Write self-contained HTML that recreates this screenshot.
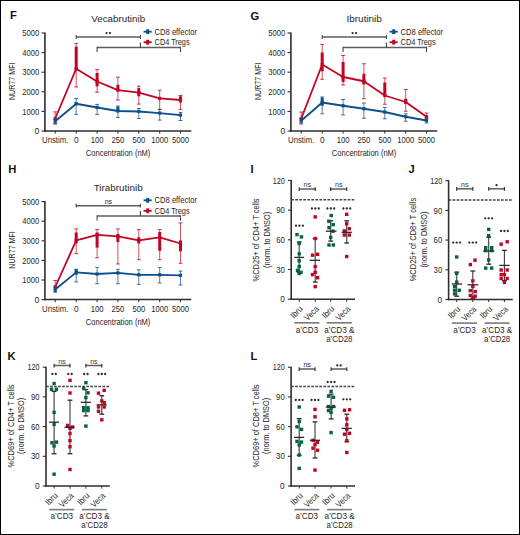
<!DOCTYPE html>
<html><head><meta charset="utf-8"><style>
html,body{margin:0;padding:0;background:#fff;}
body{width:520px;height:535px;overflow:hidden;font-family:"Liberation Sans", sans-serif;}
svg{display:block;}
</style></head><body>
<svg width="520" height="535" viewBox="0 0 520 535" font-family='"Liberation Sans", sans-serif'>
<rect x="0" y="0" width="520" height="535" fill="#fff"/>
<rect x="0.5" y="0.5" width="519" height="534" fill="none" stroke="#000" stroke-width="1"/>
<text x="10.0" y="19.0" font-size="11.2" text-anchor="start" font-weight="bold" fill="#111" >F</text>
<text x="250.6" y="19.6" font-size="11.2" text-anchor="start" font-weight="bold" fill="#111" >G</text>
<text x="8.3" y="173.0" font-size="11.2" text-anchor="start" font-weight="bold" fill="#111" >H</text>
<text x="250.6" y="173.0" font-size="11.2" text-anchor="start" font-weight="bold" fill="#111" >I</text>
<text x="408.4" y="173.0" font-size="11.2" text-anchor="start" font-weight="bold" fill="#111" >J</text>
<text x="7.4" y="360.0" font-size="11.2" text-anchor="start" font-weight="bold" fill="#111" >K</text>
<text x="250.4" y="360.2" font-size="11.2" text-anchor="start" font-weight="bold" fill="#111" >L</text>
<line x1="44.9" y1="32.5" x2="44.9" y2="131.75" stroke="#2e2e2e" stroke-width="1.6" />
<line x1="44.1" y1="131" x2="191.3" y2="131" stroke="#2e2e2e" stroke-width="1.5" />
<line x1="41.5" y1="131.0" x2="44.9" y2="131.0" stroke="#2e2e2e" stroke-width="1.1" />
<text x="39.2" y="134.1" font-size="8.9" text-anchor="end" font-weight="normal" fill="#262626" textLength="4.8" lengthAdjust="spacingAndGlyphs" >0</text>
<line x1="41.5" y1="111.4" x2="44.9" y2="111.4" stroke="#2e2e2e" stroke-width="1.1" />
<text x="39.2" y="114.5" font-size="8.9" text-anchor="end" font-weight="normal" fill="#262626" textLength="16.9" lengthAdjust="spacingAndGlyphs" >1000</text>
<line x1="41.5" y1="91.8" x2="44.9" y2="91.8" stroke="#2e2e2e" stroke-width="1.1" />
<text x="39.2" y="94.89999999999999" font-size="8.9" text-anchor="end" font-weight="normal" fill="#262626" textLength="16.9" lengthAdjust="spacingAndGlyphs" >2000</text>
<line x1="41.5" y1="72.19999999999999" x2="44.9" y2="72.19999999999999" stroke="#2e2e2e" stroke-width="1.1" />
<text x="39.2" y="75.29999999999998" font-size="8.9" text-anchor="end" font-weight="normal" fill="#262626" textLength="16.9" lengthAdjust="spacingAndGlyphs" >3000</text>
<line x1="41.5" y1="52.599999999999994" x2="44.9" y2="52.599999999999994" stroke="#2e2e2e" stroke-width="1.1" />
<text x="39.2" y="55.699999999999996" font-size="8.9" text-anchor="end" font-weight="normal" fill="#262626" textLength="16.9" lengthAdjust="spacingAndGlyphs" >4000</text>
<line x1="41.5" y1="33.0" x2="44.9" y2="33.0" stroke="#2e2e2e" stroke-width="1.1" />
<text x="39.2" y="36.1" font-size="8.9" text-anchor="end" font-weight="normal" fill="#262626" textLength="16.9" lengthAdjust="spacingAndGlyphs" >5000</text>
<line x1="55.2" y1="131" x2="55.2" y2="133.6" stroke="#2e2e2e" stroke-width="1.0" />
<text x="55.2" y="143.2" font-size="8.6" text-anchor="middle" font-weight="normal" fill="#262626" textLength="26.2" lengthAdjust="spacingAndGlyphs" >Unstim.</text>
<line x1="76.2" y1="131" x2="76.2" y2="133.6" stroke="#2e2e2e" stroke-width="1.0" />
<text x="76.2" y="143.2" font-size="8.6" text-anchor="middle" font-weight="normal" fill="#262626" textLength="4.6" lengthAdjust="spacingAndGlyphs" >0</text>
<line x1="97.1" y1="131" x2="97.1" y2="133.6" stroke="#2e2e2e" stroke-width="1.0" />
<text x="97.1" y="143.2" font-size="8.6" text-anchor="middle" font-weight="normal" fill="#262626" textLength="12.8" lengthAdjust="spacingAndGlyphs" >100</text>
<line x1="117.9" y1="131" x2="117.9" y2="133.6" stroke="#2e2e2e" stroke-width="1.0" />
<text x="117.9" y="143.2" font-size="8.6" text-anchor="middle" font-weight="normal" fill="#262626" textLength="12.8" lengthAdjust="spacingAndGlyphs" >250</text>
<line x1="138.8" y1="131" x2="138.8" y2="133.6" stroke="#2e2e2e" stroke-width="1.0" />
<text x="138.8" y="143.2" font-size="8.6" text-anchor="middle" font-weight="normal" fill="#262626" textLength="12.8" lengthAdjust="spacingAndGlyphs" >500</text>
<line x1="159.7" y1="131" x2="159.7" y2="133.6" stroke="#2e2e2e" stroke-width="1.0" />
<text x="159.7" y="143.2" font-size="8.6" text-anchor="middle" font-weight="normal" fill="#262626" textLength="17.0" lengthAdjust="spacingAndGlyphs" >1000</text>
<line x1="180.5" y1="131" x2="180.5" y2="133.6" stroke="#2e2e2e" stroke-width="1.0" />
<text x="180.5" y="143.2" font-size="8.6" text-anchor="middle" font-weight="normal" fill="#262626" textLength="17.0" lengthAdjust="spacingAndGlyphs" >5000</text>
<text x="118.1" y="156.3" font-size="9.0" text-anchor="middle" font-weight="normal" fill="#262626" textLength="64.6" lengthAdjust="spacingAndGlyphs" >Concentration (nM)</text>
<text transform="translate(15.4,81.3) rotate(-90)" font-size="8.4" text-anchor="middle" fill="#262626" textLength="37.5" lengthAdjust="spacingAndGlyphs">NUR77 MFI</text>
<text x="118.2" y="22" font-size="9.9" text-anchor="middle" font-weight="normal" fill="#262626" textLength="53.8" lengthAdjust="spacingAndGlyphs" >Vecabrutinib</text>
<line x1="76.2" y1="37.1" x2="140.4" y2="37.1" stroke="#5e5e5e" stroke-width="1.5" />
<line x1="76.2" y1="35.1" x2="76.2" y2="38.9" stroke="#444" stroke-width="1.1" />
<line x1="140.4" y1="35.1" x2="140.4" y2="38.9" stroke="#444" stroke-width="1.1" />
<line x1="97.1" y1="47.4" x2="180.5" y2="47.4" stroke="#5e5e5e" stroke-width="1.5" />
<line x1="97.1" y1="46.699999999999996" x2="97.1" y2="52.0" stroke="#444" stroke-width="1.1" />
<line x1="180.5" y1="46.699999999999996" x2="180.5" y2="52.0" stroke="#444" stroke-width="1.1" />
<line x1="140.4" y1="42.4" x2="140.4" y2="47.4" stroke="#444" stroke-width="1.1" />
<circle cx="106.60" cy="33.1" r="1.15" fill="#2a2a2a"/>
<circle cx="110.00" cy="33.1" r="1.15" fill="#2a2a2a"/>
<line x1="143.6" y1="31.7" x2="151.7" y2="31.7" stroke="#0c4f8c" stroke-width="1.8" />
<rect x="146.20" y="29.30" width="3.00" height="4.80" fill="#0c4f8c" />
<text x="154.6" y="34.8" font-size="8.8" text-anchor="start" font-weight="normal" fill="#262626" textLength="42.5" lengthAdjust="spacingAndGlyphs" >CD8 effector</text>
<line x1="143.6" y1="42.2" x2="151.7" y2="42.2" stroke="#c20424" stroke-width="1.8" />
<rect x="146.20" y="39.80" width="3.00" height="4.80" fill="#c20424" />
<text x="154.6" y="45.300000000000004" font-size="8.8" text-anchor="start" font-weight="normal" fill="#262626" textLength="35.0" lengthAdjust="spacingAndGlyphs" >CD4 Tregs</text>
<line x1="55.2" y1="111.9" x2="55.2" y2="124.0" stroke="#c20424" stroke-width="1.0" stroke-opacity="0.7"/>
<line x1="53.300000000000004" y1="111.9" x2="57.1" y2="111.9" stroke="#c20424" stroke-width="1.0" stroke-opacity="0.8"/>
<line x1="53.300000000000004" y1="124.0" x2="57.1" y2="124.0" stroke="#c20424" stroke-width="1.0" stroke-opacity="0.8"/>
<line x1="76.2" y1="43.4" x2="76.2" y2="87.0" stroke="#c20424" stroke-width="1.0" stroke-opacity="0.7"/>
<line x1="74.3" y1="43.4" x2="78.10000000000001" y2="43.4" stroke="#c20424" stroke-width="1.0" stroke-opacity="0.8"/>
<line x1="74.3" y1="87.0" x2="78.10000000000001" y2="87.0" stroke="#c20424" stroke-width="1.0" stroke-opacity="0.8"/>
<line x1="97.1" y1="69.6" x2="97.1" y2="92.2" stroke="#c20424" stroke-width="1.0" stroke-opacity="0.7"/>
<line x1="95.19999999999999" y1="69.6" x2="99.0" y2="69.6" stroke="#c20424" stroke-width="1.0" stroke-opacity="0.8"/>
<line x1="95.19999999999999" y1="92.2" x2="99.0" y2="92.2" stroke="#c20424" stroke-width="1.0" stroke-opacity="0.8"/>
<line x1="117.9" y1="77.2" x2="117.9" y2="100.0" stroke="#c20424" stroke-width="1.0" stroke-opacity="0.7"/>
<line x1="116.0" y1="77.2" x2="119.80000000000001" y2="77.2" stroke="#c20424" stroke-width="1.0" stroke-opacity="0.8"/>
<line x1="116.0" y1="100.0" x2="119.80000000000001" y2="100.0" stroke="#c20424" stroke-width="1.0" stroke-opacity="0.8"/>
<line x1="138.8" y1="86.1" x2="138.8" y2="104.1" stroke="#c20424" stroke-width="1.0" stroke-opacity="0.7"/>
<line x1="136.9" y1="86.1" x2="140.70000000000002" y2="86.1" stroke="#c20424" stroke-width="1.0" stroke-opacity="0.8"/>
<line x1="136.9" y1="104.1" x2="140.70000000000002" y2="104.1" stroke="#c20424" stroke-width="1.0" stroke-opacity="0.8"/>
<line x1="159.7" y1="90.2" x2="159.7" y2="109.3" stroke="#c20424" stroke-width="1.0" stroke-opacity="0.7"/>
<line x1="157.79999999999998" y1="90.2" x2="161.6" y2="90.2" stroke="#c20424" stroke-width="1.0" stroke-opacity="0.8"/>
<line x1="157.79999999999998" y1="109.3" x2="161.6" y2="109.3" stroke="#c20424" stroke-width="1.0" stroke-opacity="0.8"/>
<line x1="180.5" y1="95.5" x2="180.5" y2="109.3" stroke="#c20424" stroke-width="1.0" stroke-opacity="0.7"/>
<line x1="178.6" y1="95.5" x2="182.4" y2="95.5" stroke="#c20424" stroke-width="1.0" stroke-opacity="0.8"/>
<line x1="178.6" y1="109.3" x2="182.4" y2="109.3" stroke="#c20424" stroke-width="1.0" stroke-opacity="0.8"/>
<polyline points="55.20,118.50 76.20,68.75 97.10,81.50 117.90,90.20 138.80,92.70 159.70,98.40 180.50,100.00" fill="none" stroke="#c20424" stroke-width="1.8" stroke-linejoin="round"/>
<rect x="53.60" y="116.90" width="3.20" height="3.20" fill="#c20424" />
<rect x="74.70" y="46.60" width="3.00" height="23.90" fill="#c20424" />
<rect x="74.60" y="67.15" width="3.20" height="3.20" fill="#c20424" />
<rect x="95.60" y="73.00" width="3.00" height="13.40" fill="#c20424" />
<rect x="95.50" y="79.90" width="3.20" height="3.20" fill="#c20424" />
<rect x="116.40" y="84.80" width="3.00" height="6.20" fill="#c20424" />
<rect x="116.30" y="88.60" width="3.20" height="3.20" fill="#c20424" />
<rect x="137.30" y="88.10" width="3.00" height="8.20" fill="#c20424" />
<rect x="137.20" y="91.10" width="3.20" height="3.20" fill="#c20424" />
<rect x="158.10" y="96.80" width="3.20" height="3.20" fill="#c20424" />
<rect x="179.00" y="96.30" width="3.00" height="6.20" fill="#c20424" />
<rect x="178.90" y="98.40" width="3.20" height="3.20" fill="#c20424" />
<line x1="55.2" y1="119.5" x2="55.2" y2="123.5" stroke="#0c4f8c" stroke-width="1.0" stroke-opacity="0.7"/>
<line x1="53.300000000000004" y1="119.5" x2="57.1" y2="119.5" stroke="#0c4f8c" stroke-width="1.0" stroke-opacity="0.8"/>
<line x1="53.300000000000004" y1="123.5" x2="57.1" y2="123.5" stroke="#0c4f8c" stroke-width="1.0" stroke-opacity="0.8"/>
<line x1="76.2" y1="98.5" x2="76.2" y2="114.4" stroke="#0c4f8c" stroke-width="1.0" stroke-opacity="0.7"/>
<line x1="74.3" y1="98.5" x2="78.10000000000001" y2="98.5" stroke="#0c4f8c" stroke-width="1.0" stroke-opacity="0.8"/>
<line x1="74.3" y1="114.4" x2="78.10000000000001" y2="114.4" stroke="#0c4f8c" stroke-width="1.0" stroke-opacity="0.8"/>
<line x1="97.1" y1="104.4" x2="97.1" y2="114.4" stroke="#0c4f8c" stroke-width="1.0" stroke-opacity="0.7"/>
<line x1="95.19999999999999" y1="104.4" x2="99.0" y2="104.4" stroke="#0c4f8c" stroke-width="1.0" stroke-opacity="0.8"/>
<line x1="95.19999999999999" y1="114.4" x2="99.0" y2="114.4" stroke="#0c4f8c" stroke-width="1.0" stroke-opacity="0.8"/>
<line x1="117.9" y1="106.0" x2="117.9" y2="117.5" stroke="#0c4f8c" stroke-width="1.0" stroke-opacity="0.7"/>
<line x1="116.0" y1="106.0" x2="119.80000000000001" y2="106.0" stroke="#0c4f8c" stroke-width="1.0" stroke-opacity="0.8"/>
<line x1="116.0" y1="117.5" x2="119.80000000000001" y2="117.5" stroke="#0c4f8c" stroke-width="1.0" stroke-opacity="0.8"/>
<line x1="138.8" y1="108.5" x2="138.8" y2="118.5" stroke="#0c4f8c" stroke-width="1.0" stroke-opacity="0.7"/>
<line x1="136.9" y1="108.5" x2="140.70000000000002" y2="108.5" stroke="#0c4f8c" stroke-width="1.0" stroke-opacity="0.8"/>
<line x1="136.9" y1="118.5" x2="140.70000000000002" y2="118.5" stroke="#0c4f8c" stroke-width="1.0" stroke-opacity="0.8"/>
<line x1="159.7" y1="109.5" x2="159.7" y2="120.1" stroke="#0c4f8c" stroke-width="1.0" stroke-opacity="0.7"/>
<line x1="157.79999999999998" y1="109.5" x2="161.6" y2="109.5" stroke="#0c4f8c" stroke-width="1.0" stroke-opacity="0.8"/>
<line x1="157.79999999999998" y1="120.1" x2="161.6" y2="120.1" stroke="#0c4f8c" stroke-width="1.0" stroke-opacity="0.8"/>
<line x1="180.5" y1="112.6" x2="180.5" y2="120.5" stroke="#0c4f8c" stroke-width="1.0" stroke-opacity="0.7"/>
<line x1="178.6" y1="112.6" x2="182.4" y2="112.6" stroke="#0c4f8c" stroke-width="1.0" stroke-opacity="0.8"/>
<line x1="178.6" y1="120.5" x2="182.4" y2="120.5" stroke="#0c4f8c" stroke-width="1.0" stroke-opacity="0.8"/>
<polyline points="55.20,121.25 76.20,103.75 97.10,107.50 117.90,111.00 138.80,111.50 159.70,113.10 180.50,115.10" fill="none" stroke="#0c4f8c" stroke-width="1.8" stroke-linejoin="round"/>
<rect x="53.60" y="119.65" width="3.20" height="3.20" fill="#0c4f8c" />
<rect x="74.70" y="102.25" width="3.00" height="2.50" fill="#0c4f8c" />
<rect x="74.60" y="102.15" width="3.20" height="3.20" fill="#0c4f8c" />
<rect x="95.50" y="105.90" width="3.20" height="3.20" fill="#0c4f8c" />
<rect x="116.40" y="106.60" width="3.00" height="4.90" fill="#0c4f8c" />
<rect x="116.30" y="109.40" width="3.20" height="3.20" fill="#0c4f8c" />
<rect x="137.20" y="109.90" width="3.20" height="3.20" fill="#0c4f8c" />
<rect x="158.10" y="111.50" width="3.20" height="3.20" fill="#0c4f8c" />
<rect x="178.90" y="113.50" width="3.20" height="3.20" fill="#0c4f8c" />
<line x1="290.9" y1="32.5" x2="290.9" y2="131.75" stroke="#2e2e2e" stroke-width="1.6" />
<line x1="290.09999999999997" y1="131" x2="437.3" y2="131" stroke="#2e2e2e" stroke-width="1.5" />
<line x1="287.5" y1="131.0" x2="290.9" y2="131.0" stroke="#2e2e2e" stroke-width="1.1" />
<text x="285.2" y="134.1" font-size="8.9" text-anchor="end" font-weight="normal" fill="#262626" textLength="4.8" lengthAdjust="spacingAndGlyphs" >0</text>
<line x1="287.5" y1="111.4" x2="290.9" y2="111.4" stroke="#2e2e2e" stroke-width="1.1" />
<text x="285.2" y="114.5" font-size="8.9" text-anchor="end" font-weight="normal" fill="#262626" textLength="16.9" lengthAdjust="spacingAndGlyphs" >1000</text>
<line x1="287.5" y1="91.8" x2="290.9" y2="91.8" stroke="#2e2e2e" stroke-width="1.1" />
<text x="285.2" y="94.89999999999999" font-size="8.9" text-anchor="end" font-weight="normal" fill="#262626" textLength="16.9" lengthAdjust="spacingAndGlyphs" >2000</text>
<line x1="287.5" y1="72.19999999999999" x2="290.9" y2="72.19999999999999" stroke="#2e2e2e" stroke-width="1.1" />
<text x="285.2" y="75.29999999999998" font-size="8.9" text-anchor="end" font-weight="normal" fill="#262626" textLength="16.9" lengthAdjust="spacingAndGlyphs" >3000</text>
<line x1="287.5" y1="52.599999999999994" x2="290.9" y2="52.599999999999994" stroke="#2e2e2e" stroke-width="1.1" />
<text x="285.2" y="55.699999999999996" font-size="8.9" text-anchor="end" font-weight="normal" fill="#262626" textLength="16.9" lengthAdjust="spacingAndGlyphs" >4000</text>
<line x1="287.5" y1="33.0" x2="290.9" y2="33.0" stroke="#2e2e2e" stroke-width="1.1" />
<text x="285.2" y="36.1" font-size="8.9" text-anchor="end" font-weight="normal" fill="#262626" textLength="16.9" lengthAdjust="spacingAndGlyphs" >5000</text>
<line x1="301.2" y1="131" x2="301.2" y2="133.6" stroke="#2e2e2e" stroke-width="1.0" />
<text x="301.2" y="143.2" font-size="8.6" text-anchor="middle" font-weight="normal" fill="#262626" textLength="26.2" lengthAdjust="spacingAndGlyphs" >Unstim.</text>
<line x1="322.2" y1="131" x2="322.2" y2="133.6" stroke="#2e2e2e" stroke-width="1.0" />
<text x="322.2" y="143.2" font-size="8.6" text-anchor="middle" font-weight="normal" fill="#262626" textLength="4.6" lengthAdjust="spacingAndGlyphs" >0</text>
<line x1="343.1" y1="131" x2="343.1" y2="133.6" stroke="#2e2e2e" stroke-width="1.0" />
<text x="343.1" y="143.2" font-size="8.6" text-anchor="middle" font-weight="normal" fill="#262626" textLength="12.8" lengthAdjust="spacingAndGlyphs" >100</text>
<line x1="363.9" y1="131" x2="363.9" y2="133.6" stroke="#2e2e2e" stroke-width="1.0" />
<text x="363.9" y="143.2" font-size="8.6" text-anchor="middle" font-weight="normal" fill="#262626" textLength="12.8" lengthAdjust="spacingAndGlyphs" >250</text>
<line x1="384.8" y1="131" x2="384.8" y2="133.6" stroke="#2e2e2e" stroke-width="1.0" />
<text x="384.8" y="143.2" font-size="8.6" text-anchor="middle" font-weight="normal" fill="#262626" textLength="12.8" lengthAdjust="spacingAndGlyphs" >500</text>
<line x1="405.7" y1="131" x2="405.7" y2="133.6" stroke="#2e2e2e" stroke-width="1.0" />
<text x="405.7" y="143.2" font-size="8.6" text-anchor="middle" font-weight="normal" fill="#262626" textLength="17.0" lengthAdjust="spacingAndGlyphs" >1000</text>
<line x1="426.5" y1="131" x2="426.5" y2="133.6" stroke="#2e2e2e" stroke-width="1.0" />
<text x="426.5" y="143.2" font-size="8.6" text-anchor="middle" font-weight="normal" fill="#262626" textLength="17.0" lengthAdjust="spacingAndGlyphs" >5000</text>
<text x="364.1" y="156.3" font-size="9.0" text-anchor="middle" font-weight="normal" fill="#262626" textLength="64.6" lengthAdjust="spacingAndGlyphs" >Concentration (nM)</text>
<text transform="translate(261.4,81.3) rotate(-90)" font-size="8.4" text-anchor="middle" fill="#262626" textLength="37.5" lengthAdjust="spacingAndGlyphs">NUR77 MFI</text>
<text x="364.2" y="22" font-size="9.9" text-anchor="middle" font-weight="normal" fill="#262626" textLength="35.3" lengthAdjust="spacingAndGlyphs" >Ibrutinib</text>
<line x1="322.2" y1="37.1" x2="386.4" y2="37.1" stroke="#5e5e5e" stroke-width="1.5" />
<line x1="322.2" y1="35.1" x2="322.2" y2="38.9" stroke="#444" stroke-width="1.1" />
<line x1="386.4" y1="35.1" x2="386.4" y2="38.9" stroke="#444" stroke-width="1.1" />
<line x1="343.1" y1="47.4" x2="426.5" y2="47.4" stroke="#5e5e5e" stroke-width="1.5" />
<line x1="343.1" y1="46.699999999999996" x2="343.1" y2="52.0" stroke="#444" stroke-width="1.1" />
<line x1="426.5" y1="46.699999999999996" x2="426.5" y2="52.0" stroke="#444" stroke-width="1.1" />
<line x1="386.4" y1="42.4" x2="386.4" y2="47.4" stroke="#444" stroke-width="1.1" />
<circle cx="352.60" cy="33.1" r="1.15" fill="#2a2a2a"/>
<circle cx="356.00" cy="33.1" r="1.15" fill="#2a2a2a"/>
<line x1="389.6" y1="31.7" x2="397.7" y2="31.7" stroke="#0c4f8c" stroke-width="1.8" />
<rect x="392.20" y="29.30" width="3.00" height="4.80" fill="#0c4f8c" />
<text x="400.6" y="34.8" font-size="8.8" text-anchor="start" font-weight="normal" fill="#262626" textLength="42.5" lengthAdjust="spacingAndGlyphs" >CD8 effector</text>
<line x1="389.6" y1="42.2" x2="397.7" y2="42.2" stroke="#c20424" stroke-width="1.8" />
<rect x="392.20" y="39.80" width="3.00" height="4.80" fill="#c20424" />
<text x="400.6" y="45.300000000000004" font-size="8.8" text-anchor="start" font-weight="normal" fill="#262626" textLength="35.0" lengthAdjust="spacingAndGlyphs" >CD4 Tregs</text>
<line x1="301.2" y1="112.0" x2="301.2" y2="124.0" stroke="#c20424" stroke-width="1.0" stroke-opacity="0.7"/>
<line x1="299.3" y1="112.0" x2="303.09999999999997" y2="112.0" stroke="#c20424" stroke-width="1.0" stroke-opacity="0.8"/>
<line x1="299.3" y1="124.0" x2="303.09999999999997" y2="124.0" stroke="#c20424" stroke-width="1.0" stroke-opacity="0.8"/>
<line x1="322.2" y1="44.5" x2="322.2" y2="79.25" stroke="#c20424" stroke-width="1.0" stroke-opacity="0.7"/>
<line x1="320.3" y1="44.5" x2="324.09999999999997" y2="44.5" stroke="#c20424" stroke-width="1.0" stroke-opacity="0.8"/>
<line x1="320.3" y1="79.25" x2="324.09999999999997" y2="79.25" stroke="#c20424" stroke-width="1.0" stroke-opacity="0.8"/>
<line x1="343.1" y1="55.5" x2="343.1" y2="85.0" stroke="#c20424" stroke-width="1.0" stroke-opacity="0.7"/>
<line x1="341.20000000000005" y1="55.5" x2="345.0" y2="55.5" stroke="#c20424" stroke-width="1.0" stroke-opacity="0.8"/>
<line x1="341.20000000000005" y1="85.0" x2="345.0" y2="85.0" stroke="#c20424" stroke-width="1.0" stroke-opacity="0.8"/>
<line x1="363.9" y1="63.75" x2="363.9" y2="98.75" stroke="#c20424" stroke-width="1.0" stroke-opacity="0.7"/>
<line x1="362.0" y1="63.75" x2="365.79999999999995" y2="63.75" stroke="#c20424" stroke-width="1.0" stroke-opacity="0.8"/>
<line x1="362.0" y1="98.75" x2="365.79999999999995" y2="98.75" stroke="#c20424" stroke-width="1.0" stroke-opacity="0.8"/>
<line x1="384.8" y1="78.0" x2="384.8" y2="104.25" stroke="#c20424" stroke-width="1.0" stroke-opacity="0.7"/>
<line x1="382.90000000000003" y1="78.0" x2="386.7" y2="78.0" stroke="#c20424" stroke-width="1.0" stroke-opacity="0.8"/>
<line x1="382.90000000000003" y1="104.25" x2="386.7" y2="104.25" stroke="#c20424" stroke-width="1.0" stroke-opacity="0.8"/>
<line x1="405.7" y1="89.5" x2="405.7" y2="111.25" stroke="#c20424" stroke-width="1.0" stroke-opacity="0.7"/>
<line x1="403.8" y1="89.5" x2="407.59999999999997" y2="89.5" stroke="#c20424" stroke-width="1.0" stroke-opacity="0.8"/>
<line x1="403.8" y1="111.25" x2="407.59999999999997" y2="111.25" stroke="#c20424" stroke-width="1.0" stroke-opacity="0.8"/>
<line x1="426.5" y1="113.0" x2="426.5" y2="118.0" stroke="#c20424" stroke-width="1.0" stroke-opacity="0.7"/>
<line x1="424.6" y1="113.0" x2="428.4" y2="113.0" stroke="#c20424" stroke-width="1.0" stroke-opacity="0.8"/>
<line x1="424.6" y1="118.0" x2="428.4" y2="118.0" stroke="#c20424" stroke-width="1.0" stroke-opacity="0.8"/>
<polyline points="301.20,118.75 322.20,64.50 343.10,77.00 363.90,81.25 384.80,95.50 405.70,102.00 426.50,116.75" fill="none" stroke="#c20424" stroke-width="1.8" stroke-linejoin="round"/>
<rect x="299.60" y="117.15" width="3.20" height="3.20" fill="#c20424" />
<rect x="320.70" y="52.50" width="3.00" height="18.75" fill="#c20424" />
<rect x="320.60" y="62.90" width="3.20" height="3.20" fill="#c20424" />
<rect x="341.60" y="62.00" width="3.00" height="20.00" fill="#c20424" />
<rect x="341.50" y="75.40" width="3.20" height="3.20" fill="#c20424" />
<rect x="362.40" y="73.75" width="3.00" height="10.75" fill="#c20424" />
<rect x="362.30" y="79.65" width="3.20" height="3.20" fill="#c20424" />
<rect x="383.30" y="82.50" width="3.00" height="13.00" fill="#c20424" />
<rect x="383.20" y="93.90" width="3.20" height="3.20" fill="#c20424" />
<rect x="404.20" y="98.75" width="3.00" height="5.00" fill="#c20424" />
<rect x="404.10" y="100.40" width="3.20" height="3.20" fill="#c20424" />
<rect x="424.90" y="115.15" width="3.20" height="3.20" fill="#c20424" />
<line x1="301.2" y1="118.5" x2="301.2" y2="123.0" stroke="#0c4f8c" stroke-width="1.0" stroke-opacity="0.7"/>
<line x1="299.3" y1="118.5" x2="303.09999999999997" y2="118.5" stroke="#0c4f8c" stroke-width="1.0" stroke-opacity="0.8"/>
<line x1="299.3" y1="123.0" x2="303.09999999999997" y2="123.0" stroke="#0c4f8c" stroke-width="1.0" stroke-opacity="0.8"/>
<line x1="322.2" y1="97.0" x2="322.2" y2="113.75" stroke="#0c4f8c" stroke-width="1.0" stroke-opacity="0.7"/>
<line x1="320.3" y1="97.0" x2="324.09999999999997" y2="97.0" stroke="#0c4f8c" stroke-width="1.0" stroke-opacity="0.8"/>
<line x1="320.3" y1="113.75" x2="324.09999999999997" y2="113.75" stroke="#0c4f8c" stroke-width="1.0" stroke-opacity="0.8"/>
<line x1="343.1" y1="99.5" x2="343.1" y2="115.0" stroke="#0c4f8c" stroke-width="1.0" stroke-opacity="0.7"/>
<line x1="341.20000000000005" y1="99.5" x2="345.0" y2="99.5" stroke="#0c4f8c" stroke-width="1.0" stroke-opacity="0.8"/>
<line x1="341.20000000000005" y1="115.0" x2="345.0" y2="115.0" stroke="#0c4f8c" stroke-width="1.0" stroke-opacity="0.8"/>
<line x1="363.9" y1="103.0" x2="363.9" y2="118.25" stroke="#0c4f8c" stroke-width="1.0" stroke-opacity="0.7"/>
<line x1="362.0" y1="103.0" x2="365.79999999999995" y2="103.0" stroke="#0c4f8c" stroke-width="1.0" stroke-opacity="0.8"/>
<line x1="362.0" y1="118.25" x2="365.79999999999995" y2="118.25" stroke="#0c4f8c" stroke-width="1.0" stroke-opacity="0.8"/>
<line x1="384.8" y1="107.5" x2="384.8" y2="118.75" stroke="#0c4f8c" stroke-width="1.0" stroke-opacity="0.7"/>
<line x1="382.90000000000003" y1="107.5" x2="386.7" y2="107.5" stroke="#0c4f8c" stroke-width="1.0" stroke-opacity="0.8"/>
<line x1="382.90000000000003" y1="118.75" x2="386.7" y2="118.75" stroke="#0c4f8c" stroke-width="1.0" stroke-opacity="0.8"/>
<line x1="405.7" y1="113.75" x2="405.7" y2="121.25" stroke="#0c4f8c" stroke-width="1.0" stroke-opacity="0.7"/>
<line x1="403.8" y1="113.75" x2="407.59999999999997" y2="113.75" stroke="#0c4f8c" stroke-width="1.0" stroke-opacity="0.8"/>
<line x1="403.8" y1="121.25" x2="407.59999999999997" y2="121.25" stroke="#0c4f8c" stroke-width="1.0" stroke-opacity="0.8"/>
<line x1="426.5" y1="118.75" x2="426.5" y2="123.0" stroke="#0c4f8c" stroke-width="1.0" stroke-opacity="0.7"/>
<line x1="424.6" y1="118.75" x2="428.4" y2="118.75" stroke="#0c4f8c" stroke-width="1.0" stroke-opacity="0.8"/>
<line x1="424.6" y1="123.0" x2="428.4" y2="123.0" stroke="#0c4f8c" stroke-width="1.0" stroke-opacity="0.8"/>
<polyline points="301.20,120.75 322.20,102.50 343.10,105.75 363.90,108.75 384.80,112.00 405.70,116.75 426.50,120.50" fill="none" stroke="#0c4f8c" stroke-width="1.8" stroke-linejoin="round"/>
<rect x="299.60" y="119.15" width="3.20" height="3.20" fill="#0c4f8c" />
<rect x="320.70" y="97.50" width="3.00" height="8.25" fill="#0c4f8c" />
<rect x="320.60" y="100.90" width="3.20" height="3.20" fill="#0c4f8c" />
<rect x="341.50" y="104.15" width="3.20" height="3.20" fill="#0c4f8c" />
<rect x="362.30" y="107.15" width="3.20" height="3.20" fill="#0c4f8c" />
<rect x="383.20" y="110.40" width="3.20" height="3.20" fill="#0c4f8c" />
<rect x="404.10" y="115.15" width="3.20" height="3.20" fill="#0c4f8c" />
<rect x="424.90" y="118.90" width="3.20" height="3.20" fill="#0c4f8c" />
<line x1="44.9" y1="201.1" x2="44.9" y2="300.35" stroke="#2e2e2e" stroke-width="1.6" />
<line x1="44.1" y1="299.6" x2="191.3" y2="299.6" stroke="#2e2e2e" stroke-width="1.5" />
<line x1="41.5" y1="299.6" x2="44.9" y2="299.6" stroke="#2e2e2e" stroke-width="1.1" />
<text x="39.2" y="302.70000000000005" font-size="8.9" text-anchor="end" font-weight="normal" fill="#262626" textLength="4.8" lengthAdjust="spacingAndGlyphs" >0</text>
<line x1="41.5" y1="280.0" x2="44.9" y2="280.0" stroke="#2e2e2e" stroke-width="1.1" />
<text x="39.2" y="283.1" font-size="8.9" text-anchor="end" font-weight="normal" fill="#262626" textLength="16.9" lengthAdjust="spacingAndGlyphs" >1000</text>
<line x1="41.5" y1="260.40000000000003" x2="44.9" y2="260.40000000000003" stroke="#2e2e2e" stroke-width="1.1" />
<text x="39.2" y="263.50000000000006" font-size="8.9" text-anchor="end" font-weight="normal" fill="#262626" textLength="16.9" lengthAdjust="spacingAndGlyphs" >2000</text>
<line x1="41.5" y1="240.8" x2="44.9" y2="240.8" stroke="#2e2e2e" stroke-width="1.1" />
<text x="39.2" y="243.9" font-size="8.9" text-anchor="end" font-weight="normal" fill="#262626" textLength="16.9" lengthAdjust="spacingAndGlyphs" >3000</text>
<line x1="41.5" y1="221.20000000000002" x2="44.9" y2="221.20000000000002" stroke="#2e2e2e" stroke-width="1.1" />
<text x="39.2" y="224.3" font-size="8.9" text-anchor="end" font-weight="normal" fill="#262626" textLength="16.9" lengthAdjust="spacingAndGlyphs" >4000</text>
<line x1="41.5" y1="201.60000000000002" x2="44.9" y2="201.60000000000002" stroke="#2e2e2e" stroke-width="1.1" />
<text x="39.2" y="204.70000000000002" font-size="8.9" text-anchor="end" font-weight="normal" fill="#262626" textLength="16.9" lengthAdjust="spacingAndGlyphs" >5000</text>
<line x1="55.2" y1="299.6" x2="55.2" y2="302.20000000000005" stroke="#2e2e2e" stroke-width="1.0" />
<text x="55.2" y="311.79999999999995" font-size="8.6" text-anchor="middle" font-weight="normal" fill="#262626" textLength="26.2" lengthAdjust="spacingAndGlyphs" >Unstim.</text>
<line x1="76.2" y1="299.6" x2="76.2" y2="302.20000000000005" stroke="#2e2e2e" stroke-width="1.0" />
<text x="76.2" y="311.79999999999995" font-size="8.6" text-anchor="middle" font-weight="normal" fill="#262626" textLength="4.6" lengthAdjust="spacingAndGlyphs" >0</text>
<line x1="97.1" y1="299.6" x2="97.1" y2="302.20000000000005" stroke="#2e2e2e" stroke-width="1.0" />
<text x="97.1" y="311.79999999999995" font-size="8.6" text-anchor="middle" font-weight="normal" fill="#262626" textLength="12.8" lengthAdjust="spacingAndGlyphs" >100</text>
<line x1="117.9" y1="299.6" x2="117.9" y2="302.20000000000005" stroke="#2e2e2e" stroke-width="1.0" />
<text x="117.9" y="311.79999999999995" font-size="8.6" text-anchor="middle" font-weight="normal" fill="#262626" textLength="12.8" lengthAdjust="spacingAndGlyphs" >250</text>
<line x1="138.8" y1="299.6" x2="138.8" y2="302.20000000000005" stroke="#2e2e2e" stroke-width="1.0" />
<text x="138.8" y="311.79999999999995" font-size="8.6" text-anchor="middle" font-weight="normal" fill="#262626" textLength="12.8" lengthAdjust="spacingAndGlyphs" >500</text>
<line x1="159.7" y1="299.6" x2="159.7" y2="302.20000000000005" stroke="#2e2e2e" stroke-width="1.0" />
<text x="159.7" y="311.79999999999995" font-size="8.6" text-anchor="middle" font-weight="normal" fill="#262626" textLength="17.0" lengthAdjust="spacingAndGlyphs" >1000</text>
<line x1="180.5" y1="299.6" x2="180.5" y2="302.20000000000005" stroke="#2e2e2e" stroke-width="1.0" />
<text x="180.5" y="311.79999999999995" font-size="8.6" text-anchor="middle" font-weight="normal" fill="#262626" textLength="17.0" lengthAdjust="spacingAndGlyphs" >5000</text>
<text x="118.1" y="324.9" font-size="9.0" text-anchor="middle" font-weight="normal" fill="#262626" textLength="64.6" lengthAdjust="spacingAndGlyphs" >Concentration (nM)</text>
<text transform="translate(15.4,249.89999999999998) rotate(-90)" font-size="8.4" text-anchor="middle" fill="#262626" textLength="37.5" lengthAdjust="spacingAndGlyphs">NUR77 MFI</text>
<text x="118.2" y="190.6" font-size="9.9" text-anchor="middle" font-weight="normal" fill="#262626" textLength="49.0" lengthAdjust="spacingAndGlyphs" >Tirabrutinib</text>
<line x1="76.2" y1="205.7" x2="140.4" y2="205.7" stroke="#5e5e5e" stroke-width="1.5" />
<line x1="76.2" y1="203.7" x2="76.2" y2="207.5" stroke="#444" stroke-width="1.1" />
<line x1="140.4" y1="203.7" x2="140.4" y2="207.5" stroke="#444" stroke-width="1.1" />
<line x1="97.1" y1="216.0" x2="180.5" y2="216.0" stroke="#5e5e5e" stroke-width="1.5" />
<line x1="97.1" y1="215.3" x2="97.1" y2="220.6" stroke="#444" stroke-width="1.1" />
<line x1="180.5" y1="215.3" x2="180.5" y2="220.6" stroke="#444" stroke-width="1.1" />
<line x1="140.4" y1="211.0" x2="140.4" y2="216.0" stroke="#444" stroke-width="1.1" />
<text x="108.3" y="203.6" font-size="6.9" text-anchor="middle" font-weight="normal" fill="#262626" >ns</text>
<line x1="143.6" y1="200.29999999999998" x2="151.7" y2="200.29999999999998" stroke="#0c4f8c" stroke-width="1.8" />
<rect x="146.20" y="197.90" width="3.00" height="4.80" fill="#0c4f8c" />
<text x="154.6" y="203.39999999999998" font-size="8.8" text-anchor="start" font-weight="normal" fill="#262626" textLength="42.5" lengthAdjust="spacingAndGlyphs" >CD8 effector</text>
<line x1="143.6" y1="210.8" x2="151.7" y2="210.8" stroke="#c20424" stroke-width="1.8" />
<rect x="146.20" y="208.40" width="3.00" height="4.80" fill="#c20424" />
<text x="154.6" y="213.9" font-size="8.8" text-anchor="start" font-weight="normal" fill="#262626" textLength="35.0" lengthAdjust="spacingAndGlyphs" >CD4 Tregs</text>
<line x1="55.2" y1="280.5" x2="55.2" y2="292.0" stroke="#c20424" stroke-width="1.0" stroke-opacity="0.7"/>
<line x1="53.300000000000004" y1="280.5" x2="57.1" y2="280.5" stroke="#c20424" stroke-width="1.0" stroke-opacity="0.8"/>
<line x1="53.300000000000004" y1="292.0" x2="57.1" y2="292.0" stroke="#c20424" stroke-width="1.0" stroke-opacity="0.8"/>
<line x1="76.2" y1="228.9" x2="76.2" y2="253.6" stroke="#c20424" stroke-width="1.0" stroke-opacity="0.7"/>
<line x1="74.3" y1="228.9" x2="78.10000000000001" y2="228.9" stroke="#c20424" stroke-width="1.0" stroke-opacity="0.8"/>
<line x1="74.3" y1="253.6" x2="78.10000000000001" y2="253.6" stroke="#c20424" stroke-width="1.0" stroke-opacity="0.8"/>
<line x1="97.1" y1="229.6" x2="97.1" y2="257.7" stroke="#c20424" stroke-width="1.0" stroke-opacity="0.7"/>
<line x1="95.19999999999999" y1="229.6" x2="99.0" y2="229.6" stroke="#c20424" stroke-width="1.0" stroke-opacity="0.8"/>
<line x1="95.19999999999999" y1="257.7" x2="99.0" y2="257.7" stroke="#c20424" stroke-width="1.0" stroke-opacity="0.8"/>
<line x1="117.9" y1="228.9" x2="117.9" y2="264.0" stroke="#c20424" stroke-width="1.0" stroke-opacity="0.7"/>
<line x1="116.0" y1="228.9" x2="119.80000000000001" y2="228.9" stroke="#c20424" stroke-width="1.0" stroke-opacity="0.8"/>
<line x1="116.0" y1="264.0" x2="119.80000000000001" y2="264.0" stroke="#c20424" stroke-width="1.0" stroke-opacity="0.8"/>
<line x1="138.8" y1="229.6" x2="138.8" y2="259.7" stroke="#c20424" stroke-width="1.0" stroke-opacity="0.7"/>
<line x1="136.9" y1="229.6" x2="140.70000000000002" y2="229.6" stroke="#c20424" stroke-width="1.0" stroke-opacity="0.8"/>
<line x1="136.9" y1="259.7" x2="140.70000000000002" y2="259.7" stroke="#c20424" stroke-width="1.0" stroke-opacity="0.8"/>
<line x1="159.7" y1="229.6" x2="159.7" y2="259.7" stroke="#c20424" stroke-width="1.0" stroke-opacity="0.7"/>
<line x1="157.79999999999998" y1="229.6" x2="161.6" y2="229.6" stroke="#c20424" stroke-width="1.0" stroke-opacity="0.8"/>
<line x1="157.79999999999998" y1="259.7" x2="161.6" y2="259.7" stroke="#c20424" stroke-width="1.0" stroke-opacity="0.8"/>
<line x1="180.5" y1="222.9" x2="180.5" y2="263.3" stroke="#c20424" stroke-width="1.0" stroke-opacity="0.7"/>
<line x1="178.6" y1="222.9" x2="182.4" y2="222.9" stroke="#c20424" stroke-width="1.0" stroke-opacity="0.8"/>
<line x1="178.6" y1="263.3" x2="182.4" y2="263.3" stroke="#c20424" stroke-width="1.0" stroke-opacity="0.8"/>
<polyline points="55.20,287.00 76.20,240.40 97.10,234.90 117.90,236.30 138.80,240.40 159.70,237.30 180.50,243.50" fill="none" stroke="#c20424" stroke-width="1.8" stroke-linejoin="round"/>
<rect x="53.60" y="285.40" width="3.20" height="3.20" fill="#c20424" />
<rect x="74.70" y="232.50" width="3.00" height="11.00" fill="#c20424" />
<rect x="74.60" y="238.80" width="3.20" height="3.20" fill="#c20424" />
<rect x="95.60" y="232.50" width="3.00" height="15.10" fill="#c20424" />
<rect x="95.50" y="233.30" width="3.20" height="3.20" fill="#c20424" />
<rect x="116.40" y="234.00" width="3.00" height="8.00" fill="#c20424" />
<rect x="116.30" y="234.70" width="3.20" height="3.20" fill="#c20424" />
<rect x="137.30" y="237.30" width="3.00" height="6.20" fill="#c20424" />
<rect x="137.20" y="238.80" width="3.20" height="3.20" fill="#c20424" />
<rect x="158.20" y="232.00" width="3.00" height="18.80" fill="#c20424" />
<rect x="158.10" y="235.70" width="3.20" height="3.20" fill="#c20424" />
<rect x="179.00" y="240.40" width="3.00" height="10.85" fill="#c20424" />
<rect x="178.90" y="241.90" width="3.20" height="3.20" fill="#c20424" />
<line x1="55.2" y1="287.0" x2="55.2" y2="292.0" stroke="#0c4f8c" stroke-width="1.0" stroke-opacity="0.7"/>
<line x1="53.300000000000004" y1="287.0" x2="57.1" y2="287.0" stroke="#0c4f8c" stroke-width="1.0" stroke-opacity="0.8"/>
<line x1="53.300000000000004" y1="292.0" x2="57.1" y2="292.0" stroke="#0c4f8c" stroke-width="1.0" stroke-opacity="0.8"/>
<line x1="76.2" y1="269.3" x2="76.2" y2="282.0" stroke="#0c4f8c" stroke-width="1.0" stroke-opacity="0.7"/>
<line x1="74.3" y1="269.3" x2="78.10000000000001" y2="269.3" stroke="#0c4f8c" stroke-width="1.0" stroke-opacity="0.8"/>
<line x1="74.3" y1="282.0" x2="78.10000000000001" y2="282.0" stroke="#0c4f8c" stroke-width="1.0" stroke-opacity="0.8"/>
<line x1="97.1" y1="267.4" x2="97.1" y2="283.7" stroke="#0c4f8c" stroke-width="1.0" stroke-opacity="0.7"/>
<line x1="95.19999999999999" y1="267.4" x2="99.0" y2="267.4" stroke="#0c4f8c" stroke-width="1.0" stroke-opacity="0.8"/>
<line x1="95.19999999999999" y1="283.7" x2="99.0" y2="283.7" stroke="#0c4f8c" stroke-width="1.0" stroke-opacity="0.8"/>
<line x1="117.9" y1="269.3" x2="117.9" y2="283.7" stroke="#0c4f8c" stroke-width="1.0" stroke-opacity="0.7"/>
<line x1="116.0" y1="269.3" x2="119.80000000000001" y2="269.3" stroke="#0c4f8c" stroke-width="1.0" stroke-opacity="0.8"/>
<line x1="116.0" y1="283.7" x2="119.80000000000001" y2="283.7" stroke="#0c4f8c" stroke-width="1.0" stroke-opacity="0.8"/>
<line x1="138.8" y1="269.8" x2="138.8" y2="284.4" stroke="#0c4f8c" stroke-width="1.0" stroke-opacity="0.7"/>
<line x1="136.9" y1="269.8" x2="140.70000000000002" y2="269.8" stroke="#0c4f8c" stroke-width="1.0" stroke-opacity="0.8"/>
<line x1="136.9" y1="284.4" x2="140.70000000000002" y2="284.4" stroke="#0c4f8c" stroke-width="1.0" stroke-opacity="0.8"/>
<line x1="159.7" y1="267.6" x2="159.7" y2="283.0" stroke="#0c4f8c" stroke-width="1.0" stroke-opacity="0.7"/>
<line x1="157.79999999999998" y1="267.6" x2="161.6" y2="267.6" stroke="#0c4f8c" stroke-width="1.0" stroke-opacity="0.8"/>
<line x1="157.79999999999998" y1="283.0" x2="161.6" y2="283.0" stroke="#0c4f8c" stroke-width="1.0" stroke-opacity="0.8"/>
<line x1="180.5" y1="271.0" x2="180.5" y2="285.0" stroke="#0c4f8c" stroke-width="1.0" stroke-opacity="0.7"/>
<line x1="178.6" y1="271.0" x2="182.4" y2="271.0" stroke="#0c4f8c" stroke-width="1.0" stroke-opacity="0.8"/>
<line x1="178.6" y1="285.0" x2="182.4" y2="285.0" stroke="#0c4f8c" stroke-width="1.0" stroke-opacity="0.8"/>
<polyline points="55.20,289.50 76.20,272.40 97.10,274.00 117.90,272.90 138.80,274.80 159.70,274.80 180.50,275.30" fill="none" stroke="#0c4f8c" stroke-width="1.8" stroke-linejoin="round"/>
<rect x="53.60" y="287.90" width="3.20" height="3.20" fill="#0c4f8c" />
<rect x="74.70" y="269.30" width="3.00" height="5.50" fill="#0c4f8c" />
<rect x="74.60" y="270.80" width="3.20" height="3.20" fill="#0c4f8c" />
<rect x="95.50" y="272.40" width="3.20" height="3.20" fill="#0c4f8c" />
<rect x="116.30" y="271.30" width="3.20" height="3.20" fill="#0c4f8c" />
<rect x="137.20" y="273.20" width="3.20" height="3.20" fill="#0c4f8c" />
<rect x="158.10" y="273.20" width="3.20" height="3.20" fill="#0c4f8c" />
<rect x="178.90" y="273.70" width="3.20" height="3.20" fill="#0c4f8c" />
<line x1="291.2" y1="179.89999999999998" x2="291.2" y2="299.95" stroke="#2e2e2e" stroke-width="1.6" />
<line x1="290.4" y1="299.2" x2="355.0" y2="299.2" stroke="#2e2e2e" stroke-width="1.5" />
<line x1="288.0" y1="299.2" x2="291.2" y2="299.2" stroke="#2e2e2e" stroke-width="1.1" />
<text x="284.8" y="302.3" font-size="8.8" text-anchor="end" font-weight="normal" fill="#262626" textLength="4.6" lengthAdjust="spacingAndGlyphs" >0</text>
<line x1="288.0" y1="269.5" x2="291.2" y2="269.5" stroke="#2e2e2e" stroke-width="1.1" />
<text x="284.8" y="272.6" font-size="8.8" text-anchor="end" font-weight="normal" fill="#262626" textLength="8.6" lengthAdjust="spacingAndGlyphs" >30</text>
<line x1="288.0" y1="239.79999999999998" x2="291.2" y2="239.79999999999998" stroke="#2e2e2e" stroke-width="1.1" />
<text x="284.8" y="242.89999999999998" font-size="8.8" text-anchor="end" font-weight="normal" fill="#262626" textLength="8.6" lengthAdjust="spacingAndGlyphs" >60</text>
<line x1="288.0" y1="210.1" x2="291.2" y2="210.1" stroke="#2e2e2e" stroke-width="1.1" />
<text x="284.8" y="213.2" font-size="8.8" text-anchor="end" font-weight="normal" fill="#262626" textLength="8.6" lengthAdjust="spacingAndGlyphs" >90</text>
<line x1="288.0" y1="180.39999999999998" x2="291.2" y2="180.39999999999998" stroke="#2e2e2e" stroke-width="1.1" />
<text x="284.8" y="183.49999999999997" font-size="8.8" text-anchor="end" font-weight="normal" fill="#262626" textLength="12.0" lengthAdjust="spacingAndGlyphs" >120</text>
<line x1="299.2" y1="299.2" x2="299.2" y2="301.8" stroke="#2e2e2e" stroke-width="1.0" />
<line x1="315.2" y1="299.2" x2="315.2" y2="301.8" stroke="#2e2e2e" stroke-width="1.0" />
<line x1="330.7" y1="299.2" x2="330.7" y2="301.8" stroke="#2e2e2e" stroke-width="1.0" />
<line x1="346.7" y1="299.2" x2="346.7" y2="301.8" stroke="#2e2e2e" stroke-width="1.0" />
<line x1="291.2" y1="199.64999999999998" x2="355.3" y2="199.64999999999998" stroke="#444" stroke-width="1.5" stroke-dasharray="2.7 1.33"/>
<line x1="299.2" y1="189.0" x2="315.2" y2="189.0" stroke="#5e5e5e" stroke-width="1.5" />
<line x1="299.2" y1="187.2" x2="299.2" y2="190.9" stroke="#333" stroke-width="1.2" />
<line x1="315.2" y1="187.2" x2="315.2" y2="190.9" stroke="#333" stroke-width="1.2" />
<text x="307.2" y="187.1" font-size="6.9" text-anchor="middle" font-weight="normal" fill="#333" >ns</text>
<line x1="330.7" y1="189.0" x2="346.7" y2="189.0" stroke="#5e5e5e" stroke-width="1.5" />
<line x1="330.7" y1="187.2" x2="330.7" y2="190.9" stroke="#333" stroke-width="1.2" />
<line x1="346.7" y1="187.2" x2="346.7" y2="190.9" stroke="#333" stroke-width="1.2" />
<text x="338.7" y="187.1" font-size="6.9" text-anchor="middle" font-weight="normal" fill="#333" >ns</text>
<circle cx="296.00" cy="225.7" r="1.15" fill="#2a2a2a"/>
<circle cx="299.40" cy="225.7" r="1.15" fill="#2a2a2a"/>
<circle cx="302.80" cy="225.7" r="1.15" fill="#2a2a2a"/>
<circle cx="311.90" cy="208.5" r="1.15" fill="#2a2a2a"/>
<circle cx="315.30" cy="208.5" r="1.15" fill="#2a2a2a"/>
<circle cx="318.70" cy="208.5" r="1.15" fill="#2a2a2a"/>
<circle cx="327.40" cy="208.5" r="1.15" fill="#2a2a2a"/>
<circle cx="330.80" cy="208.5" r="1.15" fill="#2a2a2a"/>
<circle cx="334.20" cy="208.5" r="1.15" fill="#2a2a2a"/>
<circle cx="343.40" cy="208.5" r="1.15" fill="#2a2a2a"/>
<circle cx="346.80" cy="208.5" r="1.15" fill="#2a2a2a"/>
<circle cx="350.20" cy="208.5" r="1.15" fill="#2a2a2a"/>
<line x1="299.2" y1="242.0" x2="299.2" y2="272.4" stroke="#3a3a3a" stroke-width="1.1" />
<line x1="296.8" y1="242.0" x2="301.59999999999997" y2="242.0" stroke="#2a2a2a" stroke-width="1.3" />
<line x1="296.8" y1="272.4" x2="301.59999999999997" y2="272.4" stroke="#2a2a2a" stroke-width="1.3" />
<rect x="295.30" y="232.90" width="3.40" height="3.40" fill="#07604a" />
<rect x="299.80" y="235.20" width="3.40" height="3.40" fill="#07604a" />
<rect x="297.50" y="241.80" width="3.40" height="3.40" fill="#07604a" />
<rect x="297.50" y="252.10" width="3.40" height="3.40" fill="#07604a" />
<rect x="297.50" y="259.10" width="3.40" height="3.40" fill="#07604a" />
<rect x="297.50" y="264.80" width="3.40" height="3.40" fill="#07604a" />
<rect x="295.80" y="268.60" width="3.40" height="3.40" fill="#07604a" />
<rect x="299.30" y="270.60" width="3.40" height="3.40" fill="#07604a" />
<rect x="297.50" y="271.80" width="3.40" height="3.40" fill="#07604a" />
<line x1="294.2" y1="257.4" x2="304.2" y2="257.4" stroke="#2a2a2a" stroke-width="1.3" />
<line x1="315.2" y1="238.5" x2="315.2" y2="282.0" stroke="#3a3a3a" stroke-width="1.1" />
<line x1="312.8" y1="238.5" x2="317.59999999999997" y2="238.5" stroke="#2a2a2a" stroke-width="1.3" />
<line x1="312.8" y1="282.0" x2="317.59999999999997" y2="282.0" stroke="#2a2a2a" stroke-width="1.3" />
<rect x="313.50" y="215.20" width="3.40" height="3.40" fill="#c20424" />
<rect x="313.50" y="236.80" width="3.40" height="3.40" fill="#c20424" />
<rect x="310.80" y="253.50" width="3.40" height="3.40" fill="#c20424" />
<rect x="315.90" y="252.60" width="3.40" height="3.40" fill="#c20424" />
<rect x="313.50" y="264.90" width="3.40" height="3.40" fill="#c20424" />
<rect x="313.50" y="270.60" width="3.40" height="3.40" fill="#c20424" />
<rect x="310.80" y="272.90" width="3.40" height="3.40" fill="#c20424" />
<rect x="315.90" y="276.00" width="3.40" height="3.40" fill="#c20424" />
<rect x="313.50" y="284.90" width="3.40" height="3.40" fill="#c20424" />
<line x1="309.6" y1="260.3" x2="320.0" y2="260.3" stroke="#2a2a2a" stroke-width="1.3" />
<line x1="330.7" y1="220.8" x2="330.7" y2="241.1" stroke="#3a3a3a" stroke-width="1.1" />
<line x1="328.3" y1="220.8" x2="333.09999999999997" y2="220.8" stroke="#2a2a2a" stroke-width="1.3" />
<line x1="328.3" y1="241.1" x2="333.09999999999997" y2="241.1" stroke="#2a2a2a" stroke-width="1.3" />
<rect x="329.50" y="213.80" width="3.40" height="3.40" fill="#07604a" />
<rect x="327.10" y="219.50" width="3.40" height="3.40" fill="#07604a" />
<rect x="331.50" y="222.90" width="3.40" height="3.40" fill="#07604a" />
<rect x="327.30" y="226.00" width="3.40" height="3.40" fill="#07604a" />
<rect x="331.30" y="229.50" width="3.40" height="3.40" fill="#07604a" />
<rect x="329.00" y="235.70" width="3.40" height="3.40" fill="#07604a" />
<rect x="327.30" y="243.30" width="3.40" height="3.40" fill="#07604a" />
<rect x="331.70" y="243.30" width="3.40" height="3.40" fill="#07604a" />
<line x1="325.8" y1="231.2" x2="336.5" y2="231.2" stroke="#2a2a2a" stroke-width="1.3" />
<line x1="346.7" y1="220.8" x2="346.7" y2="243.0" stroke="#3a3a3a" stroke-width="1.1" />
<line x1="344.3" y1="220.8" x2="349.09999999999997" y2="220.8" stroke="#2a2a2a" stroke-width="1.3" />
<line x1="344.3" y1="243.0" x2="349.09999999999997" y2="243.0" stroke="#2a2a2a" stroke-width="1.3" />
<rect x="345.00" y="212.60" width="3.40" height="3.40" fill="#c20424" />
<rect x="345.00" y="222.10" width="3.40" height="3.40" fill="#c20424" />
<rect x="342.60" y="229.20" width="3.40" height="3.40" fill="#c20424" />
<rect x="347.60" y="227.00" width="3.40" height="3.40" fill="#c20424" />
<rect x="342.60" y="233.30" width="3.40" height="3.40" fill="#c20424" />
<rect x="347.60" y="233.30" width="3.40" height="3.40" fill="#c20424" />
<rect x="345.00" y="254.80" width="3.40" height="3.40" fill="#c20424" />
<line x1="341.6" y1="232.3" x2="351.9" y2="232.3" stroke="#2a2a2a" stroke-width="1.3" />
<text transform="translate(303.40,309.50) rotate(-45)" font-size="8.9" text-anchor="end" fill="#262626" textLength="13.4" lengthAdjust="spacingAndGlyphs">Ibru</text>
<text transform="translate(319.40,309.50) rotate(-45)" font-size="8.9" text-anchor="end" fill="#262626" textLength="16.6" lengthAdjust="spacingAndGlyphs">Veca</text>
<text transform="translate(334.90,309.50) rotate(-45)" font-size="8.9" text-anchor="end" fill="#262626" textLength="13.4" lengthAdjust="spacingAndGlyphs">Ibru</text>
<text transform="translate(350.90,309.50) rotate(-45)" font-size="8.9" text-anchor="end" fill="#262626" textLength="16.6" lengthAdjust="spacingAndGlyphs">Veca</text>
<line x1="294.4" y1="322.8" x2="319.5" y2="322.8" stroke="#7a7a7a" stroke-width="1.6" />
<line x1="326.7" y1="322.8" x2="351.8" y2="322.8" stroke="#7a7a7a" stroke-width="1.6" />
<text x="306.9" y="332.5" font-size="8.5" text-anchor="middle" font-weight="normal" fill="#262626" textLength="22.5" lengthAdjust="spacingAndGlyphs" >a’CD3</text>
<text x="339.3" y="332.5" font-size="8.5" text-anchor="middle" font-weight="normal" fill="#262626" textLength="30.3" lengthAdjust="spacingAndGlyphs" >a’CD3 &amp;</text>
<text x="339.3" y="341.59999999999997" font-size="8.5" text-anchor="middle" font-weight="normal" fill="#262626" textLength="26.2" lengthAdjust="spacingAndGlyphs" >a’CD28</text>
<text transform="translate(259.30,239.90) rotate(-90)" font-size="8.8" text-anchor="middle" fill="#262626" textLength="83.0" lengthAdjust="spacingAndGlyphs">%CD25+ of CD4+ T cells</text>
<text transform="translate(269.80,239.90) rotate(-90)" font-size="8.8" text-anchor="middle" fill="#262626" textLength="56.0" lengthAdjust="spacingAndGlyphs">(norm. to DMSO)</text>
<line x1="448.6" y1="180.2" x2="448.6" y2="300.25" stroke="#2e2e2e" stroke-width="1.6" />
<line x1="447.8" y1="299.5" x2="512.8" y2="299.5" stroke="#2e2e2e" stroke-width="1.5" />
<line x1="445.40000000000003" y1="299.5" x2="448.6" y2="299.5" stroke="#2e2e2e" stroke-width="1.1" />
<text x="442.20000000000005" y="302.6" font-size="8.8" text-anchor="end" font-weight="normal" fill="#262626" textLength="4.6" lengthAdjust="spacingAndGlyphs" >0</text>
<line x1="445.40000000000003" y1="269.8" x2="448.6" y2="269.8" stroke="#2e2e2e" stroke-width="1.1" />
<text x="442.20000000000005" y="272.90000000000003" font-size="8.8" text-anchor="end" font-weight="normal" fill="#262626" textLength="8.6" lengthAdjust="spacingAndGlyphs" >30</text>
<line x1="445.40000000000003" y1="240.1" x2="448.6" y2="240.1" stroke="#2e2e2e" stroke-width="1.1" />
<text x="442.20000000000005" y="243.2" font-size="8.8" text-anchor="end" font-weight="normal" fill="#262626" textLength="8.6" lengthAdjust="spacingAndGlyphs" >60</text>
<line x1="445.40000000000003" y1="210.4" x2="448.6" y2="210.4" stroke="#2e2e2e" stroke-width="1.1" />
<text x="442.20000000000005" y="213.5" font-size="8.8" text-anchor="end" font-weight="normal" fill="#262626" textLength="8.6" lengthAdjust="spacingAndGlyphs" >90</text>
<line x1="445.40000000000003" y1="180.7" x2="448.6" y2="180.7" stroke="#2e2e2e" stroke-width="1.1" />
<text x="442.20000000000005" y="183.79999999999998" font-size="8.8" text-anchor="end" font-weight="normal" fill="#262626" textLength="12.0" lengthAdjust="spacingAndGlyphs" >120</text>
<line x1="456.7" y1="299.5" x2="456.7" y2="302.1" stroke="#2e2e2e" stroke-width="1.0" />
<line x1="472.8" y1="299.5" x2="472.8" y2="302.1" stroke="#2e2e2e" stroke-width="1.0" />
<line x1="488.7" y1="299.5" x2="488.7" y2="302.1" stroke="#2e2e2e" stroke-width="1.0" />
<line x1="504.4" y1="299.5" x2="504.4" y2="302.1" stroke="#2e2e2e" stroke-width="1.0" />
<line x1="448.6" y1="199.95" x2="513.0999999999999" y2="199.95" stroke="#444" stroke-width="1.5" stroke-dasharray="2.7 1.33"/>
<line x1="456.7" y1="188.8" x2="472.8" y2="188.8" stroke="#5e5e5e" stroke-width="1.5" />
<line x1="456.7" y1="187.0" x2="456.7" y2="190.70000000000002" stroke="#333" stroke-width="1.2" />
<line x1="472.8" y1="187.0" x2="472.8" y2="190.70000000000002" stroke="#333" stroke-width="1.2" />
<text x="464.75" y="186.9" font-size="6.9" text-anchor="middle" font-weight="normal" fill="#333" >ns</text>
<line x1="488.7" y1="188.8" x2="504.4" y2="188.8" stroke="#5e5e5e" stroke-width="1.5" />
<line x1="488.7" y1="187.0" x2="488.7" y2="190.70000000000002" stroke="#333" stroke-width="1.2" />
<line x1="504.4" y1="187.0" x2="504.4" y2="190.70000000000002" stroke="#333" stroke-width="1.2" />
<circle cx="496.55" cy="185.20000000000002" r="1.15" fill="#2a2a2a"/>
<circle cx="453.30" cy="242.6" r="1.15" fill="#2a2a2a"/>
<circle cx="456.70" cy="242.6" r="1.15" fill="#2a2a2a"/>
<circle cx="460.10" cy="242.6" r="1.15" fill="#2a2a2a"/>
<circle cx="469.40" cy="242.6" r="1.15" fill="#2a2a2a"/>
<circle cx="472.80" cy="242.6" r="1.15" fill="#2a2a2a"/>
<circle cx="476.20" cy="242.6" r="1.15" fill="#2a2a2a"/>
<circle cx="485.30" cy="218.3" r="1.15" fill="#2a2a2a"/>
<circle cx="488.70" cy="218.3" r="1.15" fill="#2a2a2a"/>
<circle cx="492.10" cy="218.3" r="1.15" fill="#2a2a2a"/>
<circle cx="501.00" cy="231.0" r="1.15" fill="#2a2a2a"/>
<circle cx="504.40" cy="231.0" r="1.15" fill="#2a2a2a"/>
<circle cx="507.80" cy="231.0" r="1.15" fill="#2a2a2a"/>
<line x1="456.7" y1="272.2" x2="456.7" y2="296.2" stroke="#3a3a3a" stroke-width="1.1" />
<line x1="454.3" y1="272.2" x2="459.09999999999997" y2="272.2" stroke="#2a2a2a" stroke-width="1.3" />
<line x1="454.3" y1="296.2" x2="459.09999999999997" y2="296.2" stroke="#2a2a2a" stroke-width="1.3" />
<rect x="455.00" y="255.30" width="3.40" height="3.40" fill="#07604a" />
<rect x="455.00" y="271.60" width="3.40" height="3.40" fill="#07604a" />
<rect x="455.00" y="280.40" width="3.40" height="3.40" fill="#07604a" />
<rect x="452.90" y="284.90" width="3.40" height="3.40" fill="#07604a" />
<rect x="452.90" y="288.50" width="3.40" height="3.40" fill="#07604a" />
<rect x="457.60" y="288.60" width="3.40" height="3.40" fill="#07604a" />
<rect x="452.90" y="292.20" width="3.40" height="3.40" fill="#07604a" />
<line x1="451.8" y1="284.0" x2="462.0" y2="284.0" stroke="#2a2a2a" stroke-width="1.3" />
<line x1="472.8" y1="271.0" x2="472.8" y2="298.5" stroke="#3a3a3a" stroke-width="1.1" />
<line x1="470.40000000000003" y1="271.0" x2="475.2" y2="271.0" stroke="#2a2a2a" stroke-width="1.3" />
<line x1="470.40000000000003" y1="298.5" x2="475.2" y2="298.5" stroke="#2a2a2a" stroke-width="1.3" />
<rect x="468.60" y="262.90" width="3.40" height="3.40" fill="#c20424" />
<rect x="473.30" y="258.50" width="3.40" height="3.40" fill="#c20424" />
<rect x="471.10" y="279.20" width="3.40" height="3.40" fill="#c20424" />
<rect x="471.10" y="284.70" width="3.40" height="3.40" fill="#c20424" />
<rect x="468.60" y="288.90" width="3.40" height="3.40" fill="#c20424" />
<rect x="473.50" y="289.90" width="3.40" height="3.40" fill="#c20424" />
<rect x="468.60" y="293.80" width="3.40" height="3.40" fill="#c20424" />
<rect x="473.50" y="294.50" width="3.40" height="3.40" fill="#c20424" />
<rect x="471.10" y="295.90" width="3.40" height="3.40" fill="#c20424" />
<line x1="467.5" y1="284.8" x2="478.3" y2="284.8" stroke="#2a2a2a" stroke-width="1.3" />
<line x1="488.7" y1="237.3" x2="488.7" y2="264.2" stroke="#3a3a3a" stroke-width="1.1" />
<line x1="486.3" y1="237.3" x2="491.09999999999997" y2="237.3" stroke="#2a2a2a" stroke-width="1.3" />
<line x1="486.3" y1="264.2" x2="491.09999999999997" y2="264.2" stroke="#2a2a2a" stroke-width="1.3" />
<rect x="487.00" y="227.70" width="3.40" height="3.40" fill="#07604a" />
<rect x="487.00" y="234.00" width="3.40" height="3.40" fill="#07604a" />
<rect x="484.00" y="246.00" width="3.40" height="3.40" fill="#07604a" />
<rect x="490.00" y="246.00" width="3.40" height="3.40" fill="#07604a" />
<rect x="484.00" y="248.90" width="3.40" height="3.40" fill="#07604a" />
<rect x="490.00" y="248.90" width="3.40" height="3.40" fill="#07604a" />
<rect x="487.00" y="258.20" width="3.40" height="3.40" fill="#07604a" />
<rect x="484.00" y="266.40" width="3.40" height="3.40" fill="#07604a" />
<rect x="490.00" y="266.40" width="3.40" height="3.40" fill="#07604a" />
<line x1="483.2" y1="251.0" x2="494.4" y2="251.0" stroke="#2a2a2a" stroke-width="1.3" />
<line x1="504.4" y1="250.4" x2="504.4" y2="280.5" stroke="#3a3a3a" stroke-width="1.1" />
<line x1="502.0" y1="250.4" x2="506.79999999999995" y2="250.4" stroke="#2a2a2a" stroke-width="1.3" />
<line x1="502.0" y1="280.5" x2="506.79999999999995" y2="280.5" stroke="#2a2a2a" stroke-width="1.3" />
<rect x="499.50" y="242.50" width="3.40" height="3.40" fill="#c20424" />
<rect x="505.50" y="240.10" width="3.40" height="3.40" fill="#c20424" />
<rect x="499.50" y="268.30" width="3.40" height="3.40" fill="#c20424" />
<rect x="505.50" y="268.30" width="3.40" height="3.40" fill="#c20424" />
<rect x="499.50" y="272.90" width="3.40" height="3.40" fill="#c20424" />
<rect x="502.70" y="272.90" width="3.40" height="3.40" fill="#c20424" />
<rect x="499.50" y="276.80" width="3.40" height="3.40" fill="#c20424" />
<rect x="505.50" y="276.80" width="3.40" height="3.40" fill="#c20424" />
<rect x="502.70" y="280.70" width="3.40" height="3.40" fill="#c20424" />
<line x1="499.3" y1="265.4" x2="509.7" y2="265.4" stroke="#2a2a2a" stroke-width="1.3" />
<text transform="translate(460.90,309.80) rotate(-45)" font-size="8.9" text-anchor="end" fill="#262626" textLength="13.4" lengthAdjust="spacingAndGlyphs">Ibru</text>
<text transform="translate(477.00,309.80) rotate(-45)" font-size="8.9" text-anchor="end" fill="#262626" textLength="16.6" lengthAdjust="spacingAndGlyphs">Veca</text>
<text transform="translate(492.90,309.80) rotate(-45)" font-size="8.9" text-anchor="end" fill="#262626" textLength="13.4" lengthAdjust="spacingAndGlyphs">Ibru</text>
<text transform="translate(508.60,309.80) rotate(-45)" font-size="8.9" text-anchor="end" fill="#262626" textLength="16.6" lengthAdjust="spacingAndGlyphs">Veca</text>
<line x1="451.9" y1="323.1" x2="477.1" y2="323.1" stroke="#7a7a7a" stroke-width="1.6" />
<line x1="484.7" y1="323.1" x2="509.5" y2="323.1" stroke="#7a7a7a" stroke-width="1.6" />
<text x="464.45" y="332.8" font-size="8.5" text-anchor="middle" font-weight="normal" fill="#262626" textLength="22.5" lengthAdjust="spacingAndGlyphs" >a’CD3</text>
<text x="497.15" y="332.8" font-size="8.5" text-anchor="middle" font-weight="normal" fill="#262626" textLength="30.3" lengthAdjust="spacingAndGlyphs" >a’CD3 &amp;</text>
<text x="497.15" y="341.9" font-size="8.5" text-anchor="middle" font-weight="normal" fill="#262626" textLength="26.2" lengthAdjust="spacingAndGlyphs" >a’CD28</text>
<text transform="translate(416.30,239.60) rotate(-90)" font-size="8.8" text-anchor="middle" fill="#262626" textLength="83.5" lengthAdjust="spacingAndGlyphs">%CD25+ of CD8+ T cells</text>
<text transform="translate(426.70,239.60) rotate(-90)" font-size="8.8" text-anchor="middle" fill="#262626" textLength="56.0" lengthAdjust="spacingAndGlyphs">(norm. to DMSO)</text>
<line x1="46.0" y1="366.7" x2="46.0" y2="486.75" stroke="#2e2e2e" stroke-width="1.6" />
<line x1="45.2" y1="486.0" x2="109.8" y2="486.0" stroke="#2e2e2e" stroke-width="1.5" />
<line x1="42.8" y1="486.0" x2="46.0" y2="486.0" stroke="#2e2e2e" stroke-width="1.1" />
<text x="39.6" y="489.1" font-size="8.8" text-anchor="end" font-weight="normal" fill="#262626" textLength="4.6" lengthAdjust="spacingAndGlyphs" >0</text>
<line x1="42.8" y1="456.3" x2="46.0" y2="456.3" stroke="#2e2e2e" stroke-width="1.1" />
<text x="39.6" y="459.40000000000003" font-size="8.8" text-anchor="end" font-weight="normal" fill="#262626" textLength="8.6" lengthAdjust="spacingAndGlyphs" >30</text>
<line x1="42.8" y1="426.6" x2="46.0" y2="426.6" stroke="#2e2e2e" stroke-width="1.1" />
<text x="39.6" y="429.70000000000005" font-size="8.8" text-anchor="end" font-weight="normal" fill="#262626" textLength="8.6" lengthAdjust="spacingAndGlyphs" >60</text>
<line x1="42.8" y1="396.9" x2="46.0" y2="396.9" stroke="#2e2e2e" stroke-width="1.1" />
<text x="39.6" y="400.0" font-size="8.8" text-anchor="end" font-weight="normal" fill="#262626" textLength="8.6" lengthAdjust="spacingAndGlyphs" >90</text>
<line x1="42.8" y1="367.2" x2="46.0" y2="367.2" stroke="#2e2e2e" stroke-width="1.1" />
<text x="39.6" y="370.3" font-size="8.8" text-anchor="end" font-weight="normal" fill="#262626" textLength="12.0" lengthAdjust="spacingAndGlyphs" >120</text>
<line x1="54.1" y1="486.0" x2="54.1" y2="488.6" stroke="#2e2e2e" stroke-width="1.0" />
<line x1="70.0" y1="486.0" x2="70.0" y2="488.6" stroke="#2e2e2e" stroke-width="1.0" />
<line x1="85.9" y1="486.0" x2="85.9" y2="488.6" stroke="#2e2e2e" stroke-width="1.0" />
<line x1="101.8" y1="486.0" x2="101.8" y2="488.6" stroke="#2e2e2e" stroke-width="1.0" />
<line x1="46.0" y1="386.45" x2="110.1" y2="386.45" stroke="#444" stroke-width="1.5" stroke-dasharray="2.7 1.33"/>
<line x1="54.1" y1="365.5" x2="70.0" y2="365.5" stroke="#5e5e5e" stroke-width="1.5" />
<line x1="54.1" y1="363.7" x2="54.1" y2="367.4" stroke="#333" stroke-width="1.2" />
<line x1="70.0" y1="363.7" x2="70.0" y2="367.4" stroke="#333" stroke-width="1.2" />
<text x="62.05" y="363.6" font-size="6.9" text-anchor="middle" font-weight="normal" fill="#333" >ns</text>
<line x1="85.9" y1="365.5" x2="101.8" y2="365.5" stroke="#5e5e5e" stroke-width="1.5" />
<line x1="85.9" y1="363.7" x2="85.9" y2="367.4" stroke="#333" stroke-width="1.2" />
<line x1="101.8" y1="363.7" x2="101.8" y2="367.4" stroke="#333" stroke-width="1.2" />
<text x="93.85" y="363.6" font-size="6.9" text-anchor="middle" font-weight="normal" fill="#333" >ns</text>
<circle cx="52.40" cy="374.0" r="1.15" fill="#2a2a2a"/>
<circle cx="55.80" cy="374.0" r="1.15" fill="#2a2a2a"/>
<circle cx="68.30" cy="374.0" r="1.15" fill="#2a2a2a"/>
<circle cx="71.70" cy="374.0" r="1.15" fill="#2a2a2a"/>
<circle cx="84.20" cy="374.0" r="1.15" fill="#2a2a2a"/>
<circle cx="87.60" cy="374.0" r="1.15" fill="#2a2a2a"/>
<circle cx="98.40" cy="374.0" r="1.15" fill="#2a2a2a"/>
<circle cx="101.80" cy="374.0" r="1.15" fill="#2a2a2a"/>
<circle cx="105.20" cy="374.0" r="1.15" fill="#2a2a2a"/>
<line x1="54.1" y1="391.4" x2="54.1" y2="453.7" stroke="#3a3a3a" stroke-width="1.1" />
<line x1="51.7" y1="391.4" x2="56.5" y2="391.4" stroke="#2a2a2a" stroke-width="1.3" />
<line x1="51.7" y1="453.7" x2="56.5" y2="453.7" stroke="#2a2a2a" stroke-width="1.3" />
<rect x="52.40" y="381.80" width="3.40" height="3.40" fill="#07604a" />
<rect x="49.80" y="387.60" width="3.40" height="3.40" fill="#07604a" />
<rect x="54.70" y="387.60" width="3.40" height="3.40" fill="#07604a" />
<rect x="52.40" y="410.70" width="3.40" height="3.40" fill="#07604a" />
<rect x="52.40" y="422.70" width="3.40" height="3.40" fill="#07604a" />
<rect x="50.30" y="441.10" width="3.40" height="3.40" fill="#07604a" />
<rect x="54.80" y="440.40" width="3.40" height="3.40" fill="#07604a" />
<rect x="52.40" y="444.30" width="3.40" height="3.40" fill="#07604a" />
<rect x="52.40" y="472.50" width="3.40" height="3.40" fill="#07604a" />
<line x1="49.0" y1="422.2" x2="59.0" y2="422.2" stroke="#2a2a2a" stroke-width="1.3" />
<line x1="70.0" y1="400.2" x2="70.0" y2="453.7" stroke="#3a3a3a" stroke-width="1.1" />
<line x1="67.6" y1="400.2" x2="72.4" y2="400.2" stroke="#2a2a2a" stroke-width="1.3" />
<line x1="67.6" y1="453.7" x2="72.4" y2="453.7" stroke="#2a2a2a" stroke-width="1.3" />
<rect x="68.30" y="378.60" width="3.40" height="3.40" fill="#c20424" />
<rect x="68.30" y="391.30" width="3.40" height="3.40" fill="#c20424" />
<rect x="65.90" y="423.70" width="3.40" height="3.40" fill="#c20424" />
<rect x="68.30" y="426.60" width="3.40" height="3.40" fill="#c20424" />
<rect x="70.80" y="425.30" width="3.40" height="3.40" fill="#c20424" />
<rect x="68.30" y="431.80" width="3.40" height="3.40" fill="#c20424" />
<rect x="68.30" y="439.00" width="3.40" height="3.40" fill="#c20424" />
<rect x="68.30" y="445.00" width="3.40" height="3.40" fill="#c20424" />
<rect x="68.30" y="467.80" width="3.40" height="3.40" fill="#c20424" />
<line x1="64.5" y1="427.3" x2="74.6" y2="427.3" stroke="#2a2a2a" stroke-width="1.3" />
<line x1="85.9" y1="389.6" x2="85.9" y2="415.9" stroke="#3a3a3a" stroke-width="1.1" />
<line x1="83.5" y1="389.6" x2="88.30000000000001" y2="389.6" stroke="#2a2a2a" stroke-width="1.3" />
<line x1="83.5" y1="415.9" x2="88.30000000000001" y2="415.9" stroke="#2a2a2a" stroke-width="1.3" />
<rect x="84.20" y="381.00" width="3.40" height="3.40" fill="#07604a" />
<rect x="82.00" y="386.80" width="3.40" height="3.40" fill="#07604a" />
<rect x="86.30" y="391.10" width="3.40" height="3.40" fill="#07604a" />
<rect x="84.20" y="395.90" width="3.40" height="3.40" fill="#07604a" />
<rect x="82.00" y="406.00" width="3.40" height="3.40" fill="#07604a" />
<rect x="86.30" y="406.00" width="3.40" height="3.40" fill="#07604a" />
<rect x="82.00" y="408.90" width="3.40" height="3.40" fill="#07604a" />
<rect x="86.30" y="408.90" width="3.40" height="3.40" fill="#07604a" />
<rect x="84.20" y="424.40" width="3.40" height="3.40" fill="#07604a" />
<line x1="80.8" y1="402.3" x2="90.9" y2="402.3" stroke="#2a2a2a" stroke-width="1.3" />
<line x1="101.8" y1="395.7" x2="101.8" y2="414.2" stroke="#3a3a3a" stroke-width="1.1" />
<line x1="99.39999999999999" y1="395.7" x2="104.2" y2="395.7" stroke="#2a2a2a" stroke-width="1.3" />
<line x1="99.39999999999999" y1="414.2" x2="104.2" y2="414.2" stroke="#2a2a2a" stroke-width="1.3" />
<rect x="96.80" y="391.50" width="3.40" height="3.40" fill="#c20424" />
<rect x="102.50" y="388.70" width="3.40" height="3.40" fill="#c20424" />
<rect x="100.10" y="399.20" width="3.40" height="3.40" fill="#c20424" />
<rect x="102.50" y="400.90" width="3.40" height="3.40" fill="#c20424" />
<rect x="96.80" y="405.30" width="3.40" height="3.40" fill="#c20424" />
<rect x="102.50" y="405.30" width="3.40" height="3.40" fill="#c20424" />
<rect x="96.80" y="409.60" width="3.40" height="3.40" fill="#c20424" />
<rect x="100.10" y="418.10" width="3.40" height="3.40" fill="#c20424" />
<line x1="96.6" y1="404.8" x2="106.7" y2="404.8" stroke="#2a2a2a" stroke-width="1.3" />
<text transform="translate(58.30,496.30) rotate(-45)" font-size="8.9" text-anchor="end" fill="#262626" textLength="13.4" lengthAdjust="spacingAndGlyphs">Ibru</text>
<text transform="translate(74.20,496.30) rotate(-45)" font-size="8.9" text-anchor="end" fill="#262626" textLength="16.6" lengthAdjust="spacingAndGlyphs">Veca</text>
<text transform="translate(90.10,496.30) rotate(-45)" font-size="8.9" text-anchor="end" fill="#262626" textLength="13.4" lengthAdjust="spacingAndGlyphs">Ibru</text>
<text transform="translate(106.00,496.30) rotate(-45)" font-size="8.9" text-anchor="end" fill="#262626" textLength="16.6" lengthAdjust="spacingAndGlyphs">Veca</text>
<line x1="49.300000000000004" y1="509.6" x2="74.3" y2="509.6" stroke="#7a7a7a" stroke-width="1.6" />
<line x1="81.9" y1="509.6" x2="106.89999999999999" y2="509.6" stroke="#7a7a7a" stroke-width="1.6" />
<text x="61.75" y="519.3" font-size="8.5" text-anchor="middle" font-weight="normal" fill="#262626" textLength="22.5" lengthAdjust="spacingAndGlyphs" >a’CD3</text>
<text x="94.44999999999999" y="519.3" font-size="8.5" text-anchor="middle" font-weight="normal" fill="#262626" textLength="30.3" lengthAdjust="spacingAndGlyphs" >a’CD3 &amp;</text>
<text x="94.44999999999999" y="528.4" font-size="8.5" text-anchor="middle" font-weight="normal" fill="#262626" textLength="26.2" lengthAdjust="spacingAndGlyphs" >a’CD28</text>
<text transform="translate(13.50,425.90) rotate(-90)" font-size="8.8" text-anchor="middle" fill="#262626" textLength="83.0" lengthAdjust="spacingAndGlyphs">%CD69+ of CD4+ T cells</text>
<text transform="translate(23.80,425.90) rotate(-90)" font-size="8.8" text-anchor="middle" fill="#262626" textLength="56.0" lengthAdjust="spacingAndGlyphs">(norm. to DMSO)</text>
<line x1="291.1" y1="366.7" x2="291.1" y2="486.75" stroke="#2e2e2e" stroke-width="1.6" />
<line x1="290.3" y1="486.0" x2="355.0" y2="486.0" stroke="#2e2e2e" stroke-width="1.5" />
<line x1="287.90000000000003" y1="486.0" x2="291.1" y2="486.0" stroke="#2e2e2e" stroke-width="1.1" />
<text x="284.70000000000005" y="489.1" font-size="8.8" text-anchor="end" font-weight="normal" fill="#262626" textLength="4.6" lengthAdjust="spacingAndGlyphs" >0</text>
<line x1="287.90000000000003" y1="456.3" x2="291.1" y2="456.3" stroke="#2e2e2e" stroke-width="1.1" />
<text x="284.70000000000005" y="459.40000000000003" font-size="8.8" text-anchor="end" font-weight="normal" fill="#262626" textLength="8.6" lengthAdjust="spacingAndGlyphs" >30</text>
<line x1="287.90000000000003" y1="426.6" x2="291.1" y2="426.6" stroke="#2e2e2e" stroke-width="1.1" />
<text x="284.70000000000005" y="429.70000000000005" font-size="8.8" text-anchor="end" font-weight="normal" fill="#262626" textLength="8.6" lengthAdjust="spacingAndGlyphs" >60</text>
<line x1="287.90000000000003" y1="396.9" x2="291.1" y2="396.9" stroke="#2e2e2e" stroke-width="1.1" />
<text x="284.70000000000005" y="400.0" font-size="8.8" text-anchor="end" font-weight="normal" fill="#262626" textLength="8.6" lengthAdjust="spacingAndGlyphs" >90</text>
<line x1="287.90000000000003" y1="367.2" x2="291.1" y2="367.2" stroke="#2e2e2e" stroke-width="1.1" />
<text x="284.70000000000005" y="370.3" font-size="8.8" text-anchor="end" font-weight="normal" fill="#262626" textLength="12.0" lengthAdjust="spacingAndGlyphs" >120</text>
<line x1="299.2" y1="486.0" x2="299.2" y2="488.6" stroke="#2e2e2e" stroke-width="1.0" />
<line x1="315.0" y1="486.0" x2="315.0" y2="488.6" stroke="#2e2e2e" stroke-width="1.0" />
<line x1="331.1" y1="486.0" x2="331.1" y2="488.6" stroke="#2e2e2e" stroke-width="1.0" />
<line x1="346.8" y1="486.0" x2="346.8" y2="488.6" stroke="#2e2e2e" stroke-width="1.0" />
<line x1="291.1" y1="386.45" x2="355.3" y2="386.45" stroke="#444" stroke-width="1.5" stroke-dasharray="2.7 1.33"/>
<line x1="299.2" y1="369.0" x2="315.0" y2="369.0" stroke="#5e5e5e" stroke-width="1.5" />
<line x1="299.2" y1="367.2" x2="299.2" y2="370.9" stroke="#333" stroke-width="1.2" />
<line x1="315.0" y1="367.2" x2="315.0" y2="370.9" stroke="#333" stroke-width="1.2" />
<text x="307.1" y="367.1" font-size="6.9" text-anchor="middle" font-weight="normal" fill="#333" >ns</text>
<line x1="331.1" y1="369.0" x2="346.8" y2="369.0" stroke="#5e5e5e" stroke-width="1.5" />
<line x1="331.1" y1="367.2" x2="331.1" y2="370.9" stroke="#333" stroke-width="1.2" />
<line x1="346.8" y1="367.2" x2="346.8" y2="370.9" stroke="#333" stroke-width="1.2" />
<circle cx="337.25" cy="365.4" r="1.15" fill="#2a2a2a"/>
<circle cx="340.65" cy="365.4" r="1.15" fill="#2a2a2a"/>
<circle cx="295.80" cy="400.0" r="1.15" fill="#2a2a2a"/>
<circle cx="299.20" cy="400.0" r="1.15" fill="#2a2a2a"/>
<circle cx="302.60" cy="400.0" r="1.15" fill="#2a2a2a"/>
<circle cx="311.60" cy="400.0" r="1.15" fill="#2a2a2a"/>
<circle cx="315.00" cy="400.0" r="1.15" fill="#2a2a2a"/>
<circle cx="318.40" cy="400.0" r="1.15" fill="#2a2a2a"/>
<circle cx="327.70" cy="382.0" r="1.15" fill="#2a2a2a"/>
<circle cx="331.10" cy="382.0" r="1.15" fill="#2a2a2a"/>
<circle cx="334.50" cy="382.0" r="1.15" fill="#2a2a2a"/>
<circle cx="343.40" cy="399.3" r="1.15" fill="#2a2a2a"/>
<circle cx="346.80" cy="399.3" r="1.15" fill="#2a2a2a"/>
<circle cx="350.20" cy="399.3" r="1.15" fill="#2a2a2a"/>
<line x1="299.2" y1="418.7" x2="299.2" y2="455.3" stroke="#3a3a3a" stroke-width="1.1" />
<line x1="296.8" y1="418.7" x2="301.59999999999997" y2="418.7" stroke="#2a2a2a" stroke-width="1.3" />
<line x1="296.8" y1="455.3" x2="301.59999999999997" y2="455.3" stroke="#2a2a2a" stroke-width="1.3" />
<rect x="297.50" y="405.30" width="3.40" height="3.40" fill="#07604a" />
<rect x="297.50" y="419.80" width="3.40" height="3.40" fill="#07604a" />
<rect x="295.30" y="425.10" width="3.40" height="3.40" fill="#07604a" />
<rect x="299.80" y="427.70" width="3.40" height="3.40" fill="#07604a" />
<rect x="295.30" y="439.70" width="3.40" height="3.40" fill="#07604a" />
<rect x="299.80" y="440.40" width="3.40" height="3.40" fill="#07604a" />
<rect x="297.50" y="443.30" width="3.40" height="3.40" fill="#07604a" />
<rect x="297.50" y="453.40" width="3.40" height="3.40" fill="#07604a" />
<rect x="297.50" y="466.70" width="3.40" height="3.40" fill="#07604a" />
<line x1="294.0" y1="437.4" x2="304.2" y2="437.4" stroke="#2a2a2a" stroke-width="1.3" />
<line x1="315.0" y1="421.9" x2="315.0" y2="458.0" stroke="#3a3a3a" stroke-width="1.1" />
<line x1="312.6" y1="421.9" x2="317.4" y2="421.9" stroke="#2a2a2a" stroke-width="1.3" />
<line x1="312.6" y1="458.0" x2="317.4" y2="458.0" stroke="#2a2a2a" stroke-width="1.3" />
<rect x="313.30" y="407.70" width="3.40" height="3.40" fill="#c20424" />
<rect x="313.30" y="415.10" width="3.40" height="3.40" fill="#c20424" />
<rect x="311.30" y="438.60" width="3.40" height="3.40" fill="#c20424" />
<rect x="315.80" y="440.70" width="3.40" height="3.40" fill="#c20424" />
<rect x="313.30" y="442.90" width="3.40" height="3.40" fill="#c20424" />
<rect x="311.30" y="446.50" width="3.40" height="3.40" fill="#c20424" />
<rect x="315.80" y="448.50" width="3.40" height="3.40" fill="#c20424" />
<rect x="313.30" y="468.40" width="3.40" height="3.40" fill="#c20424" />
<line x1="309.8" y1="440.3" x2="320.0" y2="440.3" stroke="#2a2a2a" stroke-width="1.3" />
<line x1="331.1" y1="394.2" x2="331.1" y2="418.9" stroke="#3a3a3a" stroke-width="1.1" />
<line x1="328.70000000000005" y1="394.2" x2="333.5" y2="394.2" stroke="#2a2a2a" stroke-width="1.3" />
<line x1="328.70000000000005" y1="418.9" x2="333.5" y2="418.9" stroke="#2a2a2a" stroke-width="1.3" />
<rect x="329.40" y="389.70" width="3.40" height="3.40" fill="#07604a" />
<rect x="326.80" y="394.40" width="3.40" height="3.40" fill="#07604a" />
<rect x="331.80" y="395.60" width="3.40" height="3.40" fill="#07604a" />
<rect x="326.80" y="404.80" width="3.40" height="3.40" fill="#07604a" />
<rect x="331.80" y="404.80" width="3.40" height="3.40" fill="#07604a" />
<rect x="329.40" y="406.70" width="3.40" height="3.40" fill="#07604a" />
<rect x="326.80" y="408.90" width="3.40" height="3.40" fill="#07604a" />
<rect x="329.40" y="410.70" width="3.40" height="3.40" fill="#07604a" />
<rect x="329.40" y="430.90" width="3.40" height="3.40" fill="#07604a" />
<line x1="325.8" y1="407.0" x2="335.8" y2="407.0" stroke="#2a2a2a" stroke-width="1.3" />
<line x1="346.8" y1="414.2" x2="346.8" y2="441.7" stroke="#3a3a3a" stroke-width="1.1" />
<line x1="344.40000000000003" y1="414.2" x2="349.2" y2="414.2" stroke="#2a2a2a" stroke-width="1.3" />
<line x1="344.40000000000003" y1="441.7" x2="349.2" y2="441.7" stroke="#2a2a2a" stroke-width="1.3" />
<rect x="342.80" y="408.60" width="3.40" height="3.40" fill="#c20424" />
<rect x="347.80" y="408.10" width="3.40" height="3.40" fill="#c20424" />
<rect x="345.10" y="417.20" width="3.40" height="3.40" fill="#c20424" />
<rect x="345.10" y="423.10" width="3.40" height="3.40" fill="#c20424" />
<rect x="345.10" y="427.70" width="3.40" height="3.40" fill="#c20424" />
<rect x="342.80" y="432.50" width="3.40" height="3.40" fill="#c20424" />
<rect x="347.80" y="431.60" width="3.40" height="3.40" fill="#c20424" />
<rect x="345.10" y="439.00" width="3.40" height="3.40" fill="#c20424" />
<rect x="345.10" y="450.80" width="3.40" height="3.40" fill="#c20424" />
<line x1="341.6" y1="428.4" x2="351.8" y2="428.4" stroke="#2a2a2a" stroke-width="1.3" />
<text transform="translate(303.40,496.30) rotate(-45)" font-size="8.9" text-anchor="end" fill="#262626" textLength="13.4" lengthAdjust="spacingAndGlyphs">Ibru</text>
<text transform="translate(319.20,496.30) rotate(-45)" font-size="8.9" text-anchor="end" fill="#262626" textLength="16.6" lengthAdjust="spacingAndGlyphs">Veca</text>
<text transform="translate(335.30,496.30) rotate(-45)" font-size="8.9" text-anchor="end" fill="#262626" textLength="13.4" lengthAdjust="spacingAndGlyphs">Ibru</text>
<text transform="translate(351.00,496.30) rotate(-45)" font-size="8.9" text-anchor="end" fill="#262626" textLength="16.6" lengthAdjust="spacingAndGlyphs">Veca</text>
<line x1="294.4" y1="509.6" x2="319.3" y2="509.6" stroke="#7a7a7a" stroke-width="1.6" />
<line x1="327.1" y1="509.6" x2="351.90000000000003" y2="509.6" stroke="#7a7a7a" stroke-width="1.6" />
<text x="306.8" y="519.3" font-size="8.5" text-anchor="middle" font-weight="normal" fill="#262626" textLength="22.5" lengthAdjust="spacingAndGlyphs" >a’CD3</text>
<text x="339.55000000000007" y="519.3" font-size="8.5" text-anchor="middle" font-weight="normal" fill="#262626" textLength="30.3" lengthAdjust="spacingAndGlyphs" >a’CD3 &amp;</text>
<text x="339.55000000000007" y="528.4" font-size="8.5" text-anchor="middle" font-weight="normal" fill="#262626" textLength="26.2" lengthAdjust="spacingAndGlyphs" >a’CD28</text>
<text transform="translate(258.50,425.90) rotate(-90)" font-size="8.8" text-anchor="middle" fill="#262626" textLength="83.0" lengthAdjust="spacingAndGlyphs">%CD69+ of CD8+ T cells</text>
<text transform="translate(268.80,425.90) rotate(-90)" font-size="8.8" text-anchor="middle" fill="#262626" textLength="56.0" lengthAdjust="spacingAndGlyphs">(norm. to DMSO)</text>
</svg>
</body></html>
